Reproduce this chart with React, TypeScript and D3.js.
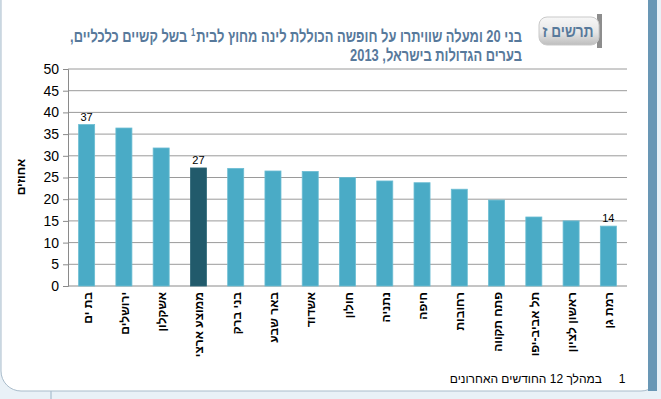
import * as d3 from "d3";
import { useEffect, useRef } from "react";

// ערים וערכים (אחוזים)
const cities = [
  "בת ים",
  "ירושלים",
  "אשקלון",
  "ממוצע ארצי",
  "בני ברק",
  "באר שבע",
  "אשדוד",
  "חולון",
  "נתניה",
  "חיפה",
  "רחובות",
  "פתח תקווה",
  "תל אביב-יפו",
  "ראשון לציון",
  "רמת גן",
];
const values = [37.2, 36.4, 31.8, 27.2, 27.1, 26.5, 26.4, 25.0, 24.2, 23.8, 22.3, 19.8, 15.9, 15.0, 13.8];
const labelled = ["בת ים", "ממוצע ארצי", "רמת גן"];
const labelText = ["37", "27", "14"];
const highlight = "ממוצע ארצי";
const yTicks = [0, 5, 10, 15, 20, 25, 30, 35, 40, 45, 50];

const titleLine1a = "בני 20 ומעלה שוויתרו על חופשה הכוללת לינה מחוץ לבית";
const titleLine1b = "בשל קשיים כלכליים,";
const titleLine2 = "בערים הגדולות בישראל, 2013";
const badgeText = "תרשים ז";
const yTitle = "אחוזים";
const footNum = "1";
const footText = "במהלך 12 החודשים האחרונים";

const W = 661;
const H = 399;

const App = () => {
  const ref = useRef<SVGSVGElement>(null);

  useEffect(() => {
    const svg = d3.select(ref.current);
    svg.selectAll("*").remove();

    const margin = { top: 69, bottom: 113, left: 68, right: 34 };
    const x0 = margin.left;
    const x1 = W - margin.right;
    const y0 = H - margin.bottom;

    // רקע ומסגרת
    svg.append("rect").attr("width", W).attr("height", H).attr("fill", "#e9f1f7");
    svg.append("line")
      .attr("x1", 51).attr("x2", 51).attr("y1", 385).attr("y2", H)
      .attr("stroke", "#9bb3c6");
    svg.append("rect")
      .attr("x", 1).attr("y", -30).attr("width", 660).attr("height", 421)
      .attr("rx", 20)
      .attr("fill", "#fff")
      .attr("stroke", "#a9bccb");
    svg.append("rect")
      .attr("x", 648).attr("y", 0).attr("width", 9).attr("height", 391)
      .attr("fill", "#6997b5");
    svg.append("rect")
      .attr("x", 657).attr("y", 0).attr("width", 4).attr("height", 392)
      .attr("fill", "#e9f1f7");

    // כותרת
    const titleColor = "#57799b";
    const tg = svg.append("g");
    const font = "'Liberation Sans', Arial, sans-serif";
    const t1a = tg.append("text")
      .attr("x", 0).attr("y", 42)
      .attr("direction", "rtl").attr("text-anchor", "start")
      .style("font", `bold 17px ${font}`).attr("fill", titleColor)
      .text(titleLine1a);
    const wA = (t1a.node() as SVGTextElement).getComputedTextLength();
    const sup = tg.append("text")
      .attr("x", -wA - 1).attr("y", 36)
      .attr("direction", "rtl").attr("text-anchor", "start")
      .style("font", `bold 10px ${font}`).attr("fill", titleColor)
      .text("1");
    const wS = (sup.node() as SVGTextElement).getComputedTextLength();
    const t1b = tg.append("text")
      .attr("x", -wA - wS - 6).attr("y", 42)
      .attr("direction", "rtl").attr("text-anchor", "start")
      .style("font", `bold 17px ${font}`).attr("fill", titleColor)
      .text(titleLine1b);
    const wB = (t1b.node() as SVGTextElement).getComputedTextLength();
    tg.append("text")
      .attr("x", 0).attr("y", 61)
      .attr("direction", "rtl").attr("text-anchor", "start")
      .style("font", `bold 17px ${font}`).attr("fill", titleColor)
      .text(titleLine2);
    const total = wA + wS + 6 + wB;
    const sx = (522 - 70) / total;
    tg.attr("transform", `translate(522,0) scale(${sx},1)`);

    // תווית תרשים
    const grad = svg.append("defs").append("linearGradient")
      .attr("id", "badge").attr("x1", 0).attr("y1", 0).attr("x2", 0).attr("y2", 1);
    grad.append("stop").attr("offset", "0%").attr("stop-color", "#f7f7f7");
    grad.append("stop").attr("offset", "55%").attr("stop-color", "#e6e6e6");
    grad.append("stop").attr("offset", "100%").attr("stop-color", "#bdbdbd");
    svg.append("rect")
      .attr("x", 597).attr("y", 14).attr("width", 5).attr("height", 34)
      .attr("fill", "#8d8d8d");
    svg.append("rect")
      .attr("x", 539).attr("y", 17).attr("width", 60).attr("height", 28)
      .attr("rx", 8)
      .attr("fill", "url(#badge)")
      .attr("stroke", "#c9c9c9");
    svg.append("text")
      .attr("x", 568).attr("y", 37)
      .attr("direction", "rtl").attr("text-anchor", "middle")
      .style("font", `bold 16px ${font}`).attr("fill", titleColor)
      .attr("transform", "translate(568,0) scale(0.85,1) translate(-568,0)")
      .text(badgeText);

    // סקאלות
    const scaleX = d3.scaleBand()
      .domain(cities)
      .range([x0, x1])
      .paddingInner(0.57)
      .paddingOuter(0.285);
    const scaleY = d3.scaleLinear().domain([0, 50]).range([y0, margin.top]);

    // קווי רשת
    svg.append("g")
      .selectAll("line")
      .data(yTicks.filter(d => d > 0))
      .enter()
      .append("line")
      .attr("x1", x0).attr("x2", x1)
      .attr("y1", d => scaleY(d)).attr("y2", d => scaleY(d))
      .attr("stroke", "#9a9a9a");

    // ציר Y
    const yAxis = d3.axisLeft(scaleY).tickValues(yTicks).tickSize(5).tickPadding(4);
    const ya = svg.append("g")
      .attr("transform", `translate(${x0},0)`)
      .call(yAxis);
    ya.select(".domain").attr("stroke", "#8a8a8a");
    ya.selectAll(".tick line").attr("stroke", "#8a8a8a");
    ya.selectAll("text")
      .style("font", `14px ${font}`)
      .attr("fill", "#000");

    // ציר X
    svg.append("line")
      .attr("x1", x0).attr("x2", x1)
      .attr("y1", y0).attr("y2", y0)
      .attr("stroke", "#8a8a8a");

    // עמודות
    svg.append("g")
      .selectAll("rect")
      .data(cities)
      .enter()
      .append("rect")
      .attr("x", d => scaleX(d)!)
      .attr("y", (d, i) => scaleY(values[i]))
      .attr("width", scaleX.bandwidth())
      .attr("height", (d, i) => y0 - scaleY(values[i]))
      .attr("fill", d => (d === highlight ? "#215a6b" : "#4aabc6"))
      .attr("stroke", d => (d === highlight ? "#2e6878" : "#6cbdd3"))
      .attr("stroke-width", 0.8);

    // תוויות ערכים
    svg.append("g")
      .selectAll("text")
      .data(labelled)
      .enter()
      .append("text")
      .attr("x", d => scaleX(d)! + scaleX.bandwidth() / 2)
      .attr("y", d => scaleY(values[cities.indexOf(d)]) - 4)
      .attr("text-anchor", "middle")
      .style("font", `11px ${font}`)
      .attr("fill", "#000")
      .text((d, i) => labelText[i]);

    // תוויות ציר X
    svg.append("g")
      .selectAll("text")
      .data(cities)
      .enter()
      .append("text")
      .attr("transform", d => `translate(${scaleX(d)! + scaleX.bandwidth() / 2 + 5},${y0 + 6}) rotate(-90)`)
      .attr("direction", "rtl")
      .attr("text-anchor", "start")
      .style("font", `bold 12px ${font}`)
      .attr("fill", "#000")
      .text(d => d);

    // כותרת ציר Y
    svg.append("text")
      .attr("transform", `translate(25,177) rotate(-90)`)
      .attr("direction", "rtl")
      .attr("text-anchor", "middle")
      .style("font", `bold 12px ${font}`)
      .attr("fill", "#000")
      .text(yTitle);

    // הערת שוליים
    svg.append("text")
      .attr("x", 622).attr("y", 383)
      .attr("text-anchor", "middle")
      .style("font", `12px ${font}`)
      .attr("fill", "#000")
      .text(footNum);
    svg.append("text")
      .attr("x", 602).attr("y", 383)
      .attr("direction", "rtl")
      .attr("text-anchor", "start")
      .style("font", `12px ${font}`)
      .attr("fill", "#000")
      .text(footText);
  }, []);

  return (
    <svg
      ref={ref}
      width={W}
      height={H}
      style={{ position: "absolute", left: 0, top: 0, display: "block" }}
    ></svg>
  );
};

export default App;
